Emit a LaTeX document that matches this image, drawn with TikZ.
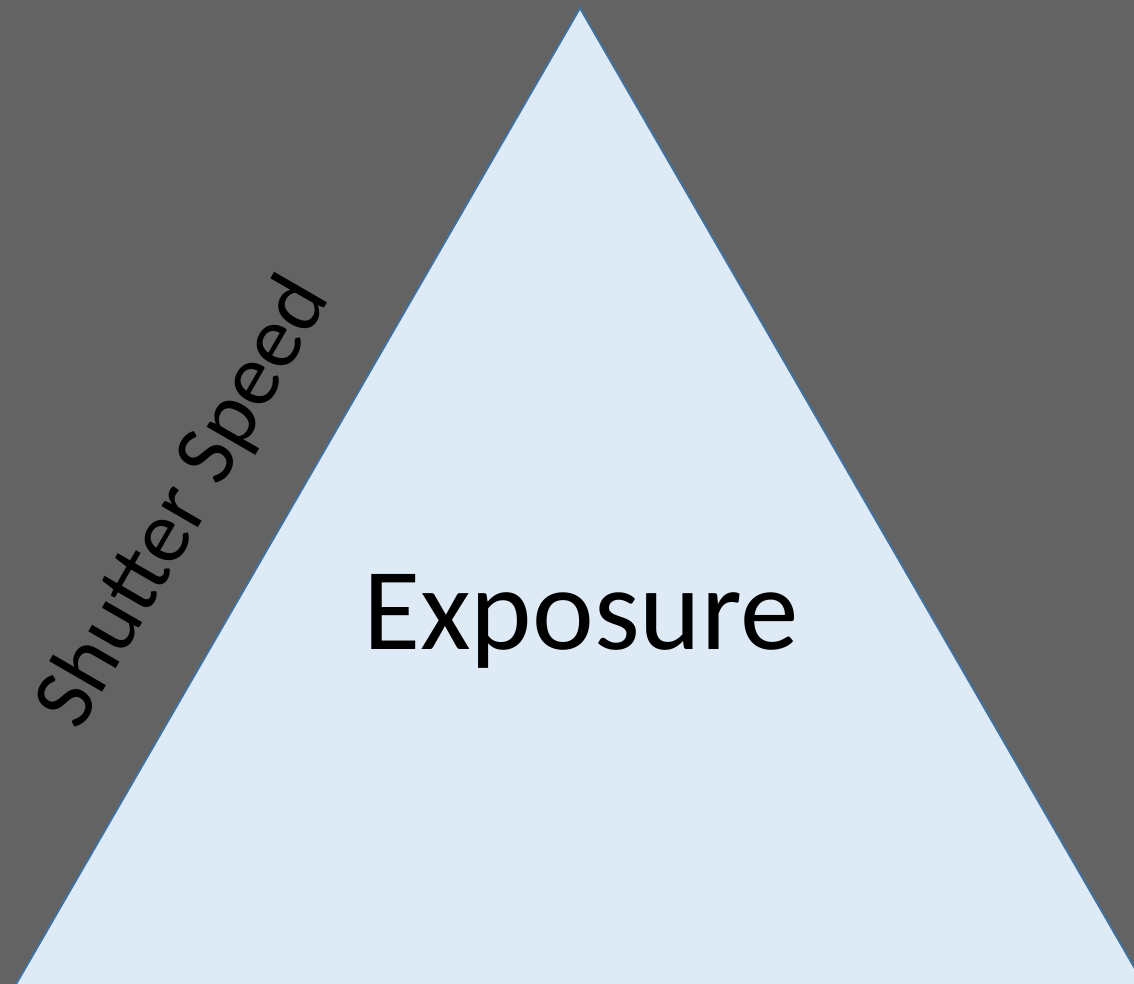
\documentclass[tikz,border=0pt]{standalone}
\usepackage{fontspec}
\setmainfont{Carlito}
\definecolor{bggray}{HTML}{636363}
\definecolor{trifill}{HTML}{DEEAF6}
\definecolor{triedge}{HTML}{41719C}
\tikzset{
  bigtext/.style={font=\fontsize{117}{120}\selectfont, text=black, inner sep=0pt},
  sidetext/.style={font=\fontsize{88}{90}\selectfont, text=black, inner sep=0pt, rotate=60}
}
\begin{document}
\begin{tikzpicture}[x=1pt,y=-1pt]
\useasboundingbox (0,0) rectangle (1134,984);
\begin{scope}
\clip (0,0) rectangle (1134,984);
\fill[bggray] (0,0) rectangle (1134,984);
\filldraw[fill=trifill, draw=triedge, line width=2pt, line join=miter]
  (580,8) -- (-44,1088) -- (1204,1088) -- cycle;
\end{scope}
\node[bigtext, anchor=base] (exposure) at (581,649) {Exposure};
\node[sidetext, anchor=base] (shutter) at (205,515) {Shutter Speed};
\end{tikzpicture}
\end{document}
